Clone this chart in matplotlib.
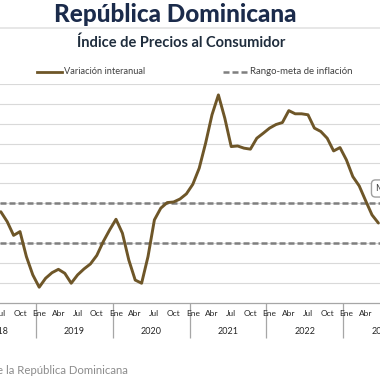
import numpy as np
import matplotlib
matplotlib.use('Agg')
import matplotlib.pyplot as plt
from matplotlib.lines import Line2D

plt.rcParams['font.family'] = ['Lato', 'DejaVu Sans']

# IPC, variacion interanual (%), julio 2018 - junio 2023
inflacion = [4.57, 4.07, 3.38, 3.57, 2.31, 1.39,
             0.77, 1.22, 1.50, 1.67, 1.47, 0.97, 1.39, 1.69, 1.94, 2.37, 3.06, 3.65,
             4.19, 3.49, 2.14, 1.13, 0.97, 2.31, 4.16, 4.75, 5.03, 5.06, 5.21, 5.47,
             5.95, 6.76, 8.02, 9.45, 10.45, 9.28, 7.85, 7.88, 7.77, 7.72, 8.27, 8.52,
             8.78, 8.96, 9.06, 9.66, 9.50, 9.50, 9.45, 8.78, 8.61, 8.27, 7.63, 7.80,
             7.18, 6.34, 5.87, 5.13, 4.41, 4.00]
primer_mes = -6          # julio 2018, contado desde enero 2019
meta_sup = 5.0
meta_inf = 3.0
etiquetas_mes = ['Ene', 'Abr', 'Jul', 'Oct']
anios = [2018, 2019, 2020, 2021, 2022, 2023]
anio_base = 2019
nota = 'May-23: 4.41%'

W = 380.0
def fx(px):
    return px / W
def fy(py):
    return 1 - py / W

marron = '#6e5628'
gris = '#7f7f7f'

fig = plt.figure(figsize=(3.8, 3.8), dpi=100)
ax = fig.add_axes([0, fy(302.5), 1, (302.5 - 84) / W])

x = np.arange(len(inflacion)) + primer_mes
linea, = ax.plot(x, inflacion, color=marron, lw=2.1, solid_joinstyle='round',
                 solid_capstyle='round', zorder=4, label='Variación interanual')
meta = ax.axhline(meta_sup, color=gris, lw=1.8, ls=(0, (2.4, 1.2)), zorder=3,
                  label='Rango-meta de inflación')
ax.axhline(meta_inf, color=gris, lw=1.8, ls=(0, (2.4, 1.2)), zorder=3)

ax.set_yticks(range(1, 12))
ax.yaxis.grid(True, color='#d9d9d9', lw=0.8)
ax.set_axisbelow(True)
ax.tick_params(axis='y', length=0, labelleft=False)
for s in ['top', 'left', 'right']:
    ax.spines[s].set_visible(False)
ax.spines['bottom'].set_color('#a6a6a6')
ax.spines['bottom'].set_linewidth(0.9)

# separadores de anio como ticks menores largos
ax.set_xticks([], minor=False)
ax.set_xticks(np.arange(-12.5, 60, 12), minor=True)
ax.tick_params(axis='x', which='minor', length=25, width=0.9, color='#a6a6a6',
               direction='out')
ax.tick_params(axis='x', which='major', length=0, labelbottom=False)
ax.set_xlim(-6.125, 53.25)
ax.set_ylim(0, 11)

tr = ax.get_xaxis_transform()
y_mes = -(314 - 302.5) / (302.5 - 84)
y_anio = -(331.7 - 302.5) / (302.5 - 84)
for a in anios:
    base = (a - anio_base) * 12
    for j, m in enumerate(etiquetas_mes):
        pos = base + 3 * j
        if pos < -7 or pos > 53:
            continue
        ax.text(pos, y_mes, m, transform=tr, ha='center', va='center',
                fontsize=6, color='#262626', clip_on=False)
    ax.text(base + 5.5, y_anio, str(a), transform=tr, ha='center', va='center',
            fontsize=6.5, color='#262626', clip_on=False)

ax.text(52.55, 5.74, nota, ha='left', va='center', fontsize=6.5, color='#404040',
        bbox=dict(boxstyle='round,pad=0.45', fc='white', ec='#a0a0a0', lw=1.0),
        zorder=6, clip_on=False)

# titulos
fig.text(fx(175.5), fy(15), 'República Dominicana', ha='center', va='center',
         fontsize=17.5, fontweight='black', color='#1b2b4b')
fig.add_artist(Line2D([0, 1], [fy(28.3), fy(28.3)], color='#e3e3e3', lw=1.2))
fig.text(fx(181.5), fy(43), 'Índice de Precios al Consumidor', ha='center',
         va='center', fontsize=10.5, fontweight='bold', color='#1f2d3d')

# leyenda
fig.add_artist(Line2D([fx(37), fx(62)], [fy(71.7), fy(71.7)], color=marron, lw=2.0))
fig.text(fx(63.5), fy(71.7), linea.get_label(), ha='left', va='center',
         fontsize=6.7, color='#404040')
fig.add_artist(Line2D([fx(223), fx(248)], [fy(71.7), fy(71.7)], color=gris, lw=1.8,
                      ls=(0, (2.4, 1.2))))
fig.text(fx(249.5), fy(71.7), meta.get_label(), ha='left', va='center',
         fontsize=6.9, color='#404040')

fig.text(fx(128), fy(371), 'Fuente: Banco Central de la República Dominicana',
         ha='right', va='center', fontsize=8.2, color='#8c8c8c')

fig.savefig('out.png', dpi=100)
